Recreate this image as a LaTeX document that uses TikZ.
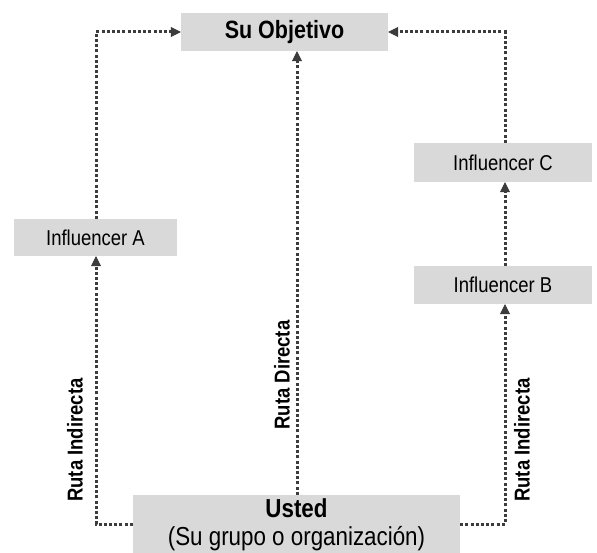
\documentclass[tikz,border=0pt]{standalone}
\usepackage{fontspec}
\setmainfont[FakeStretch=0.86]{Liberation Sans}
\usetikzlibrary{arrows.meta}
\definecolor{boxgray}{HTML}{D9D9D9}
\definecolor{linegray}{HTML}{3C3C3C}
\tikzset{
  box/.style={fill=boxgray, draw=none, inner sep=0pt, align=center},
  route/.style={draw=linegray, line width=3pt, dash pattern=on 3pt off 2.2pt},
  tip/.style={-{Triangle[length=10pt,width=10pt]}, linegray, line width=0.5pt},
  routelabel/.style={rotate=90, font=\bfseries\fontsize{21.5}{24}\selectfont, inner sep=0pt}
}
\begin{document}
\begin{tikzpicture}[x=1pt,y=-1pt]
\useasboundingbox (0,0) rectangle (597,553);
% boxes
\node[box, minimum width=207pt, minimum height=38pt, font=\bfseries\fontsize{25}{28}\selectfont] (goal) at (284.5,32) {Su Objetivo};
\node[box, minimum width=163pt, minimum height=37pt, font=\fontsize{21.5}{24}\selectfont] (infA) at (95.5,237.5) {Influencer A};
\node[box, minimum width=178pt, minimum height=39pt, font=\fontsize{21.5}{24}\selectfont] (infC) at (503,162.5) {Influencer C};
\node[box, minimum width=178pt, minimum height=38pt, font=\fontsize{21.5}{24}\selectfont] (infB) at (503,285) {Influencer B};
\node[box, minimum width=327pt, minimum height=60pt, font=\fontsize{26}{28}\selectfont] (you) at (296.5,525)
  {\textbf{Usted}\\(Su grupo o organización)};
% turning points and line ends
\coordinate (lb) at (96,524);
\coordinate (lt) at (96,32);
\coordinate (rb) at (505,524);
\coordinate (rt) at (505,32);
\coordinate (mid) at (297,0);
% left indirect route
\draw[route] (you.west |- lb) -- (lb) -- ([yshift=-9pt]infA.south -| lb);
\draw[route] (infA.north -| lt) -- (lt) -- ([xshift=-9pt]goal.west);
% direct route
\draw[route] (you.north -| mid) -- ([yshift=-9pt]goal.south -| mid);
% right indirect route
\draw[route] (you.east |- rb) -- (rb) -- ([yshift=-9pt]infB.south -| rb);
\draw[route] (infB.north -| rb) -- ([yshift=-9pt]infC.south -| rb);
\draw[route] (infC.north -| rt) -- (rt) -- ([xshift=9pt]goal.east);
% arrow heads
\draw[tip] ([yshift=-9pt]infA.south -| lb) -- (infA.south -| lb);
\draw[tip] ([xshift=-9pt]goal.west) -- (goal.west);
\draw[tip] ([yshift=-9pt]goal.south -| mid) -- (goal.south -| mid);
\draw[tip] ([yshift=-9pt]infB.south -| rb) -- (infB.south -| rb);
\draw[tip] ([yshift=-9pt]infC.south -| rb) -- (infC.south -| rb);
\draw[tip] ([xshift=9pt]goal.east) -- (goal.east);
% route labels
\node[routelabel] (lblL) at (75,440) {Ruta Indirecta};
\node[routelabel] (lblM) at (282,375) {Ruta Directa};
\node[routelabel] (lblR) at (522,440) {Ruta Indirecta};
\end{tikzpicture}
\end{document}
